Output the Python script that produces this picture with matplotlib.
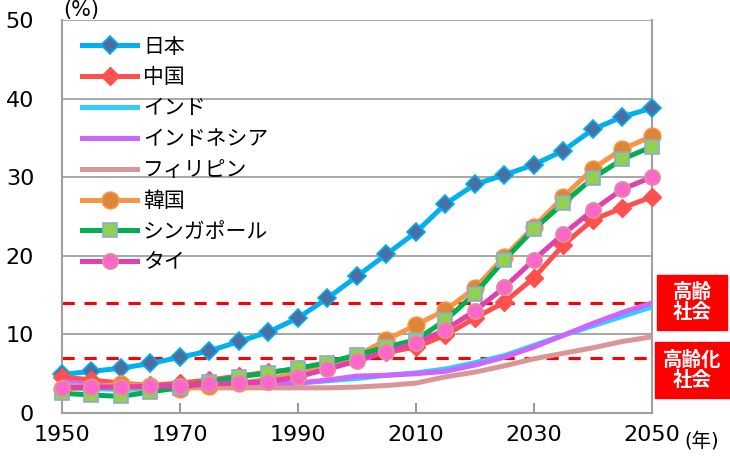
import matplotlib
matplotlib.use("Agg")
import matplotlib.pyplot as plt
from matplotlib.patches import Rectangle

plt.rcParams['font.family'] = ['DejaVu Sans', 'Noto Sans CJK JP']

years = list(range(1950, 2051, 5))

japan = [4.9, 5.3, 5.7, 6.3, 7.1, 7.9, 9.1, 10.3, 12.1, 14.6, 17.4, 20.2, 23.0, 26.6, 29.1, 30.3, 31.6, 33.4, 36.1, 37.7, 38.8]
china = [4.6, 4.2, 3.8, 3.5, 3.8, 4.2, 4.7, 5.2, 5.6, 6.1, 6.9, 7.7, 8.4, 9.9, 12.1, 14.1, 17.2, 21.4, 24.6, 26.1, 27.5]
india = [3.1, 3.1, 3.0, 3.1, 3.3, 3.5, 3.6, 3.7, 3.8, 4.1, 4.4, 4.8, 5.1, 5.6, 6.4, 7.3, 8.6, 9.9, 11.1, 12.3, 13.5]
indonesia = [4.0, 3.7, 3.4, 3.3, 3.3, 3.4, 3.5, 3.6, 3.8, 4.2, 4.7, 4.8, 5.0, 5.3, 6.1, 7.1, 8.4, 9.9, 11.4, 12.8, 14.0]
philippines = [3.6, 3.4, 3.3, 3.2, 3.2, 3.2, 3.2, 3.2, 3.2, 3.2, 3.3, 3.5, 3.8, 4.6, 5.2, 6.0, 6.9, 7.6, 8.3, 9.1, 9.7]
korea = [3.0, 3.3, 3.7, 3.4, 3.1, 3.4, 3.8, 4.3, 5.1, 5.9, 7.3, 9.3, 11.2, 13.1, 15.9, 19.9, 23.7, 27.5, 31.1, 33.6, 35.2]
singapore = [2.5, 2.3, 2.1, 2.7, 3.2, 4.0, 4.6, 5.1, 5.7, 6.4, 7.4, 8.4, 9.3, 11.8, 15.2, 19.5, 23.4, 26.7, 29.9, 32.3, 33.9]
thailand = [3.2, 3.3, 3.3, 3.4, 3.4, 3.7, 3.8, 4.0, 4.6, 5.6, 6.6, 7.8, 8.9, 10.6, 13.0, 16.0, 19.5, 22.8, 25.8, 28.5, 30.0]

aged_lines = [7, 14]

fig = plt.figure(figsize=(7.3, 4.57), dpi=100)
ax = fig.add_axes([0.0849, 0.0963, 0.8082, 0.8597])

for v in aged_lines:
    ax.axhline(v, color='#FF0000', lw=2.2, ls=(0, (4, 3.2)), zorder=2)

ax.plot(years, japan, color='#00B0F0', lw=3.6, marker='D', ms=9,
        mfc='#4A6FA5', mec='#00B0F0', mew=1.2, label='日本', zorder=3, clip_on=False)
ax.plot(years, china, color='#FF5050', lw=3.6, marker='D', ms=9,
        mfc='#FF5050', mec='#FF5050', label='中国', zorder=3, clip_on=False)
ax.plot(years, india, color='#33CCFF', lw=3.6, label='インド', zorder=3)
ax.plot(years, indonesia, color='#CC66FF', lw=3.6, label='インドネシア', zorder=3)
ax.plot(years, philippines, color='#DA9694', lw=3.6, label='フィリピン', zorder=3)
ax.plot(years, korea, color='#F79646', lw=3.6, marker='o', ms=12,
        mfc='#DE8538', mec='#F79646', mew=1.2, label='韓国', zorder=3, clip_on=False)
ax.plot(years, singapore, color='#00B050', lw=3.6, marker='s', ms=10,
        mfc='#92D050', mec='#8EA9DB', mew=1.2, label='シンガポール', zorder=3, clip_on=False)
ax.plot(years, thailand, color='#E040B0', lw=3.6, marker='o', ms=11,
        mfc='#FF66CC', mec='#D99594', mew=1.2, label='タイ', zorder=3, clip_on=False)

ax.set_xlim(1950, 2050)
ax.set_ylim(0, 50)
ax.set_xticks(range(1950, 2051, 20))
ax.set_yticks(range(0, 51, 10))
ax.tick_params(axis='both', labelsize=16, direction='in', length=7,
               color='#909090', width=1.3)
ax.tick_params(axis='y', pad=20, length=0)
ax.tick_params(axis='x', pad=9)
ax.grid(axis='y', color='#A0A0A0', lw=1.3, zorder=1)
for s in ['left', 'bottom', 'right']:
    ax.spines[s].set_color('#A0A0A0')
    ax.spines[s].set_linewidth(1.5)
ax.spines['top'].set_visible(False)

ax.legend(loc='upper left', bbox_to_anchor=(0.01, 0.995), frameon=False,
          fontsize=15, handlelength=2.6, labelspacing=0.52,
          handletextpad=0.3, borderaxespad=0.3)

fig.text(0.086, 1.0, '(%)', fontsize=15, ha='left', va='top')
fig.text(684 / 730, 0.035, '(年)', fontsize=14, ha='left', va='center')

boxes = [((657, 127), 70, 55, '高齢\n社会'), ((655, 59), 75, 56, '高齢化\n社会')]
for (x0, y0), w, h, txt in boxes:
    fig.patches.append(Rectangle((x0 / 730, y0 / 457), w / 730, h / 457,
                                 transform=fig.transFigure, color='#FF0000'))
    fig.text((x0 + w / 2) / 730, (y0 + h / 2) / 457, txt, color='white',
             fontsize=14, fontweight='bold', ha='center', va='center',
             linespacing=1.05)

fig.savefig('out.png', dpi=100)
